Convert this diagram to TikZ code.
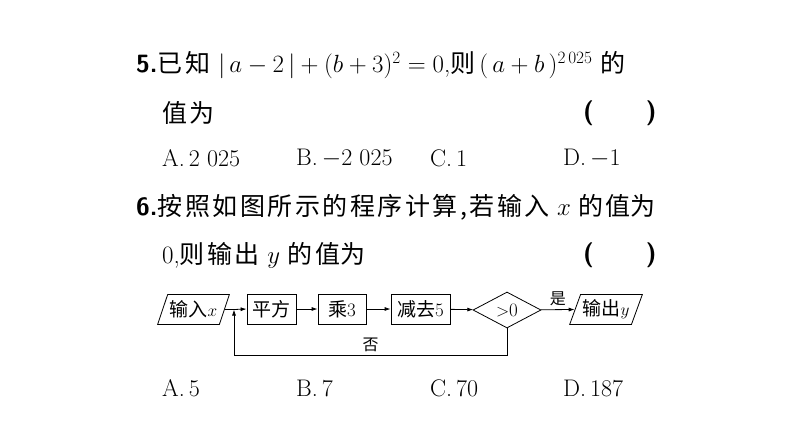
\documentclass[tikz,border=0pt]{standalone}
\usepackage{fontspec}
\usepackage{amsmath}
\newfontfamily\cjk{Noto Sans CJK SC}
\newfontfamily\cjkw[LetterSpace=10]{Noto Sans CJK SC}
\usetikzlibrary{shapes.geometric,arrows.meta}
\tikzset{
  txt/.style={anchor=west,inner sep=0pt,font=\fontsize{25}{28}\selectfont},
  opt/.style={anchor=west,inner sep=0pt,font=\fontsize{24}{27}\selectfont},
  fbox/.style={draw,line width=0.8pt,minimum height=30pt,inner sep=2pt,font=\fontsize{19}{21}\selectfont},
  io/.style={fbox,trapezium,trapezium left angle=65,trapezium right angle=115,trapezium stretches=true},
  arr/.style={-{Latex[length=6pt,width=4pt]},line width=0.8pt}
}
\begin{document}
\begin{tikzpicture}[x=1pt,y=-1pt]
\useasboundingbox (0,0) rectangle (794,447);
\node[txt] (l1) at (136,65) {{\sffamily\bfseries 5.}{\cjkw 已知}\,\,$|\,a-2\,|+(b+3)^2=0$,{\cjkw 则}\,$(\,a+b\,)^{2\,025}$\,\,{\cjk 的}};
\node[txt] (l2) at (162,113) {\cjkw 值为};
\node[txt] (p1) at (583,113) {{\sffamily\bfseries (}\hspace{52pt}{\sffamily\bfseries )}};
\node[opt] (a1) at (162,158) {A.\,2 025};
\node[opt] (b1) at (296,158) {B.\,$-$2 025};
\node[opt] (c1) at (430,158) {C.\,1};
\node[opt] (d1) at (563,158) {D.\,$-$1};
\node[txt] (l3) at (136,207) {{\sffamily\bfseries 6.}{\cjkw 按照如图所示的程序计算,若输入}\ $x$\ {\cjkw 的值}{\cjk 为}};
\node[txt] (l4) at (162,255) {0,{\cjkw 则输出}\ $y$\ {\cjkw 的值}{\cjk 为}};
\node[txt] (p2) at (583,255) {{\sffamily\bfseries (}\hspace{52pt}{\sffamily\bfseries )}};
\node[io,minimum width=72pt] (in) at (193.5,309.5) {{\cjk 输入}$x$};
\node[fbox,minimum width=49pt] (s1) at (271.5,309) {\cjk 平方};
\node[fbox,minimum width=48pt] (s2) at (342,309) {{\cjk 乘}3};
\node[fbox,minimum width=59pt] (s3) at (420.5,309) {{\cjk 减去}5};
\node[draw,line width=0.8pt,diamond,aspect=1.9,inner sep=1pt,minimum width=68pt,minimum height=36pt,font=\fontsize{19}{21}\selectfont] (dm) at (507,310) {$>$0};
\node[io,minimum width=68pt] (out) at (606,309.5) {{\cjk 输出}$y$};
\coordinate (j) at (234,309.5);
\draw[line width=0.8pt] (in.east) -- (j);
\draw[arr] (j) -- (s1.west);
\draw[arr] (s1) -- (s2);
\draw[arr] (s2) -- (s3);
\draw[arr] (s3) -- (dm);
\draw[arr] (dm) -- node[above,font=\cjk\fontsize{16}{18}\selectfont,inner sep=3pt]{是} (out.west);
\draw[arr] (dm.south) |- (234,355) node[pos=0.75,above,font=\cjk\fontsize{16}{18}\selectfont,inner sep=3pt]{否} -- (j);
\node[opt] (a2) at (162,388) {A.\,5};
\node[opt] (b2) at (296,388) {B.\,7};
\node[opt] (c2) at (430,388) {C.\,70};
\node[opt] (d2) at (563,388) {D.\,187};
\end{tikzpicture}
\end{document}
